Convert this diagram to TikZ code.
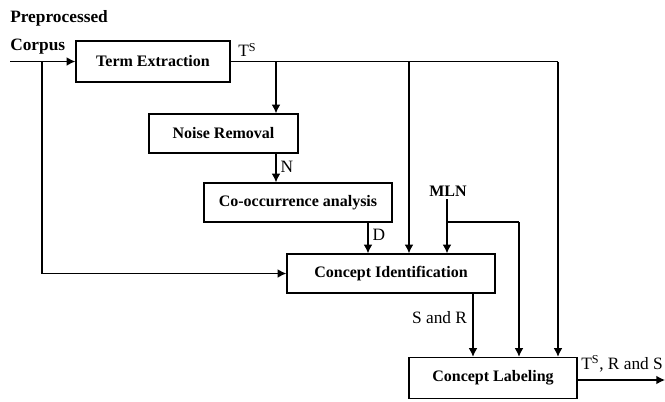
\documentclass[tikz,border=0pt]{standalone}
\usepackage{fontspec}
\setmainfont{Liberation Serif}
\usetikzlibrary{arrows.meta}
\begin{document}
\begin{tikzpicture}[x=0.75pt,y=-0.75pt,
  box/.style={draw, line width=1pt, inner sep=0pt, font=\fontsize{12}{14}\selectfont\bfseries},
  arr/.style={line width=1pt, -{Latex[length=6.5pt,width=6.5pt]}},
  ln/.style={line width=1pt},
  lbl/.style={inner sep=0pt, font=\fontsize{13}{15}\selectfont},
  blbl/.style={inner sep=0pt, font=\fontsize{13}{15}\selectfont\bfseries}]
\useasboundingbox (0,0) rectangle (665,401);

\node[box, minimum width=154*0.75pt, minimum height=41*0.75pt] (te) at (153,61.5) {Term Extraction};
\node[box, minimum width=149*0.75pt, minimum height=39*0.75pt] (nr) at (223.5,133.5) {Noise Removal};
\node[box, minimum width=188*0.75pt, minimum height=39*0.75pt] (co) at (298,202.5) {Co-occurrence analysis};
\node[box, minimum width=208*0.75pt, minimum height=39*0.75pt] (ci) at (391,273.5) {Concept Identification};
\node[box, minimum width=168*0.75pt, minimum height=41*0.75pt] (cl) at (493,378) {Concept Labeling};

\node[blbl, anchor=west] (pp) at (10,18) {Preprocessed};
\node[blbl, anchor=west] (cp) at (10,47) {Corpus};
\node[box, draw=none, anchor=center] (mln) at (448,191) {MLN};

\coordinate (in) at (10,61.5);
\coordinate (cb) at (42,61.5);
\coordinate (b1) at (276,61.5);
\coordinate (b2) at (409,61.5);
\coordinate (tr) at (558,61.5);
\coordinate (dx) at (368,222);
\coordinate (mx) at (447,199);
\coordinate (mb) at (447,222);
\coordinate (mr) at (519,222);
\coordinate (sx) at (473,294);
\coordinate (out) at (665,380);

\draw[arr] (in) -- (te.west);
\draw[arr] (cb) |- (ci.west);
\draw[ln] (te.east) -- (tr);
\draw[arr] (tr) -- (tr |- cl.north);
\draw[arr] (b1) -- (b1 |- nr.north);
\draw[arr] (b1 |- nr.south) -- (b1 |- co.north)
  node[lbl, pos=0.45, anchor=west, xshift=3pt] (nl) {N};
\draw[arr] (b2) -- (b2 |- ci.north);
\draw[arr] (dx |- co.south) -- (dx |- ci.north)
  node[lbl, pos=0.4, anchor=west, xshift=3pt] (dl) {D};
\draw[arr] (mx) -- (mx |- ci.north);
\draw[ln] (mb) -- (mr);
\draw[arr] (mr) -- (mr |- cl.north);
\draw[arr] (sx |- ci.south) -- (sx |- cl.north)
  node[lbl, pos=0.38, anchor=east, xshift=-4pt] (srl) {S and R};
\draw[arr] (cl.east |- out) -- (out);

\node[lbl, anchor=west] (ts) at (238,50) {T\textsuperscript{S}};
\node[lbl, anchor=west] (tso) at (581,364) {T\textsuperscript{S}, R and S};
\end{tikzpicture}
\end{document}
